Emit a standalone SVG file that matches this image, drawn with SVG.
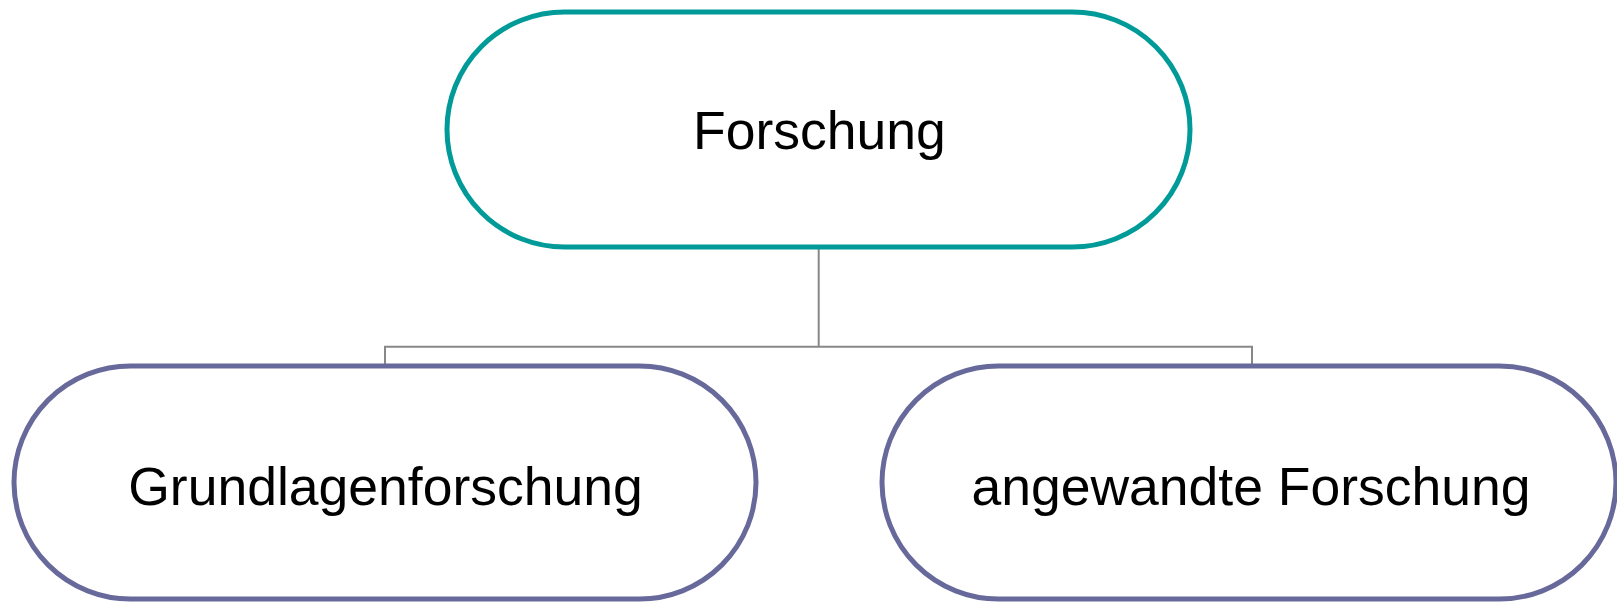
<svg xmlns="http://www.w3.org/2000/svg" width="1617" height="602" viewBox="0 0 1617 602">
<style>
.node{fill:#ffffff;stroke-width:5}
.top{stroke:#009b98}
.sub{stroke:#68699b}
.lbl{font-family:"Liberation Sans",Arial,sans-serif;font-size:53.5px;fill:#000;text-anchor:middle}
.conn{fill:none;stroke:#888888;stroke-width:2}
</style>
<rect width="1617" height="602" fill="#ffffff"/>
<g id="connectors">
<path class="conn" d="M818.7,247 V346.7 M385,366 V346.7 H1252 V366"/>
</g>
<g id="node-forschung">
<rect class="node top" x="447" y="12" width="743" height="235" rx="117.5" ry="117.5"/>
<text class="lbl" x="819.5" y="149">Forschung</text>
</g>
<g id="node-grundlagenforschung">
<rect class="node sub" x="14" y="366" width="742" height="233" rx="116.5" ry="116.5"/>
<text class="lbl" x="385.5" y="505">Grundlagenforschung</text>
</g>
<g id="node-angewandte">
<rect class="node sub" x="882" y="366" width="734" height="233" rx="116.5" ry="116.5"/>
<text class="lbl" x="1251" y="505">angewandte Forschung</text>
</g>
</svg>
